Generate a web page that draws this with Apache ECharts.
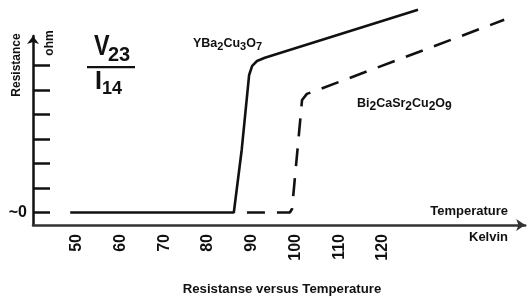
<!DOCTYPE html>
<html>
<head>
<meta charset="utf-8">
<script src="https://cdn.jsdelivr.net/npm/echarts@6/dist/echarts.min.js"></script>
<style>
  html, body { margin: 0; padding: 0; background: #fff; }
  #chart { width: 531px; height: 298px; }
</style>
</head>
<body>
<div id="chart"></div>
<script>
// tick labels on the temperature axis (Kelvin)
const xTicks = [50, 60, 70, 80, 90, 100, 110, 120];
// resistance ticks (arbitrary units, only ~0 is labelled)
const yTicks = [0, 1, 2, 3, 4, 5, 6];

// YBa2Cu3O7 curve (solid)
const ybcoT = [48.5, 85.9, 87.7, 89.4, 90.1, 91.2, 93.0, 128.0];
const ybcoR = [0, 0, 2.55, 5.61, 5.98, 6.18, 6.31, 8.27];

// Bi2CaSr2Cu2O9 curve (dashed)
const bsccoT = [88.9, 98.7, 99.2, 101.5, 102.6, 104.5, 147.7];
const bsccoR = [0, 0, 0.14, 4.59, 4.84, 4.96, 7.86];

const zip = (a, b) => a.map((v, i) => [v, b[i]]);
const font = 'Liberation Sans';

const chart = echarts.init(document.getElementById('chart'));
chart.setOption({
    animation: false,
    grid: { left: 33, right: 5.8, top: 36, bottom: 73 },
    xAxis: {
        type: 'value',
        min: 40,
        max: 152.5,
        axisLine: {
            onZero: false,
            symbol: ['none', 'arrow'],
            symbolSize: [9, 9],
            lineStyle: { color: '#333', width: 2.5 }
        },
        axisTick: { show: false },
        splitLine: { show: false },
        axisLabel: {
            customValues: xTicks,
            rotate: 90,
            margin: 9,
            color: '#111',
            fontFamily: font,
            fontWeight: 'bold',
            fontSize: 16
        }
    },
    yAxis: {
        type: 'value',
        min: -0.51,
        max: 7.2,
        axisLine: {
            show: true,
            onZero: false,
            symbol: ['none', 'arrow'],
            symbolSize: [9, 8],
            lineStyle: { color: '#111', width: 2.5 }
        },
        axisTick: {
            show: true,
            inside: true,
            length: 17,
            customValues: yTicks,
            lineStyle: { color: '#111', width: 2.5 }
        },
        splitLine: { show: false },
        axisLabel: {
            customValues: [0],
            formatter: () => '~0',
            margin: 6,
            color: '#111',
            fontFamily: font,
            fontWeight: 'bold',
            fontSize: 16
        }
    },
    series: [
        {
            type: 'line',
            data: zip(ybcoT, ybcoR),
            symbol: 'none',
            clip: false,
            lineStyle: { color: '#111', width: 2.6 }
        },
        {
            type: 'line',
            data: zip(bsccoT, bsccoR),
            symbol: 'none',
            clip: false,
            lineStyle: { color: '#111', width: 2.6, type: [18, 12] }
        }
    ],
    graphic: [
        { type: 'text', x: 17, y: 65, rotation: Math.PI / 2,
          style: { text: 'Resistance', font: 'bold 12px ' + font, fill: '#111', align: 'center', verticalAlign: 'middle' } },
        { type: 'text', x: 50, y: 43, rotation: Math.PI / 2,
          style: { text: 'ohm', font: 'bold 12px ' + font, fill: '#111', align: 'center', verticalAlign: 'middle' } },
        // V23 / I14
        { type: 'text', x: 94, y: 47, scaleX: 0.78,
          style: { text: 'V', font: 'bold 30px ' + font, fill: '#111', align: 'left', verticalAlign: 'middle' } },
        { type: 'text', x: 108, y: 55,
          style: { text: '23', font: 'bold 20px ' + font, fill: '#111', align: 'left', verticalAlign: 'middle' } },
        { type: 'rect', shape: { x: 87, y: 66, width: 48, height: 2.2 }, style: { fill: '#111' } },
        { type: 'text', x: 95, y: 82,
          style: { text: 'I', font: 'bold 25px ' + font, fill: '#111', align: 'left', verticalAlign: 'middle' } },
        { type: 'text', x: 102, y: 89,
          style: { text: '14', font: 'bold 18px ' + font, fill: '#111', align: 'left', verticalAlign: 'middle' } },
        // compound labels
        { type: 'text', x: 193, y: 44,
          style: {
              text: '{n|YBa}{s|2}{n|Cu}{s|3}{n|O}{s|7}',
              fill: '#111', verticalAlign: 'middle',
              rich: {
                  n: { fontFamily: font, fontWeight: 'bold', fontSize: 12.5, lineHeight: 14, verticalAlign: 'middle' },
                  s: { fontFamily: font, fontWeight: 'bold', fontSize: 11, lineHeight: 14, padding: [5, 0, 0, 0], verticalAlign: 'middle' }
              }
          } },
        { type: 'text', x: 357, y: 104,
          style: {
              text: '{n|Bi}{s|2}{n|CaSr}{s|2}{n|Cu}{s|2}{n|O}{s|9}',
              fill: '#111', verticalAlign: 'middle',
              rich: {
                  n: { fontFamily: font, fontWeight: 'bold', fontSize: 12.5, lineHeight: 14, verticalAlign: 'middle' },
                  s: { fontFamily: font, fontWeight: 'bold', fontSize: 12, lineHeight: 14, padding: [6, 0, 0, 0], verticalAlign: 'middle' }
              }
          } },
        { type: 'text', x: 508, y: 211,
          style: { text: 'Temperature', font: 'bold 13px ' + font, fill: '#111', align: 'right', verticalAlign: 'middle' } },
        { type: 'text', x: 508, y: 237,
          style: { text: 'Kelvin', font: 'bold 13px ' + font, fill: '#111', align: 'right', verticalAlign: 'middle' } },
        { type: 'text', x: 282, y: 290, scaleX: 1.1,
          style: { text: 'Resistanse versus Temperature', font: 'bold 12px ' + font, fill: '#111', align: 'center', verticalAlign: 'middle' } }
    ]
});
</script>
</body>
</html>
